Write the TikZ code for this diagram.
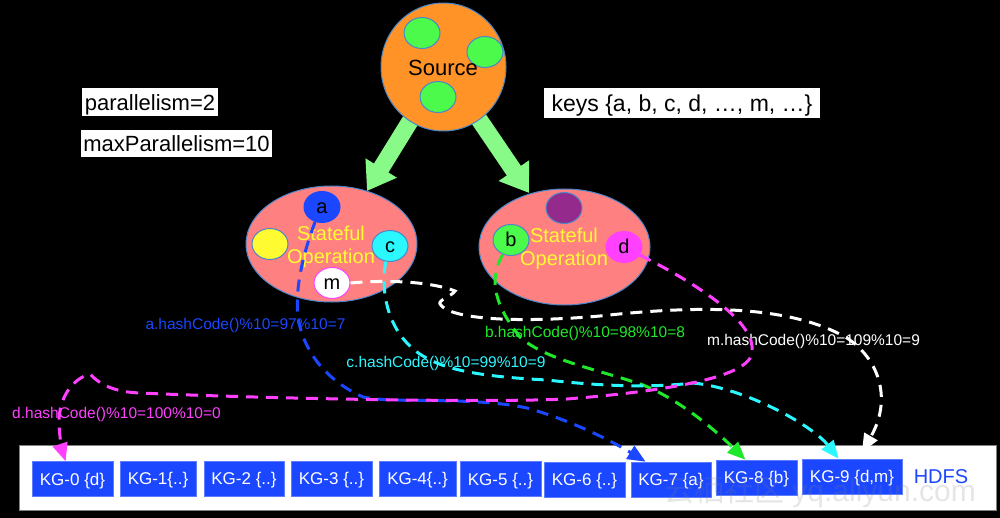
\documentclass[tikz,border=0pt]{standalone}
\usepackage{fontspec}
\setmainfont{Liberation Sans}
\newfontfamily\cjkfont{Noto Sans CJK SC}
\usepackage{tikz}
\usetikzlibrary{arrows.meta,backgrounds,shapes.geometric}
\definecolor{edgeblue}{HTML}{4A86C8}
\definecolor{srcorange}{HTML}{FF9328}
\definecolor{opsalmon}{HTML}{FF8080}
\definecolor{arrowgreen}{HTML}{88FA88}
\definecolor{keyblue}{HTML}{1A47FF}
\definecolor{keygreen}{HTML}{4CFA4C}
\definecolor{lblgreen}{HTML}{1FE82A}
\definecolor{keycyan}{HTML}{2BF7FF}
\definecolor{keymagenta}{HTML}{FF40FF}
\definecolor{keypurple}{HTML}{942B8C}
\definecolor{keyyellow}{HTML}{FFFB33}
\tikzset{
 fs/.style={font=\fontsize{#1}{#1}\selectfont},
 slot/.style={ellipse,draw=edgeblue,line width=1pt,minimum width=36pt,minimum height=31pt,inner sep=0pt,fs=20,text height=12.5pt,text depth=0pt},
 opnode/.style={ellipse,draw=edgeblue,line width=1pt,fill=opsalmon,minimum width=171pt,minimum height=116pt,inner sep=0pt},
 optext/.style={text=keyyellow,align=center,fs=20,inner sep=0pt,yshift=-1.5pt},
 infobox/.style={fill=white,text=black,inner sep=0pt,fs=22,text height=17pt,text depth=0pt},
 kgbox/.style={fill=keyblue,draw=keyblue!70!white,line width=.6pt,text=white,minimum height=35pt,inner sep=0pt,fs=17,text height=12.4pt,text depth=0pt},
 hashlbl/.style={inner sep=0pt,fs=15.5,yshift=-2pt},
 flow/.style={line width=3pt,dash pattern=on 12pt off 8pt,-{Triangle[length=18pt,width=15pt]}},
 bigarrow/.style={draw=arrowgreen,line width=17pt,shorten <=-6pt,-{Triangle[length=27pt,width=35pt]}},
}
\begin{document}
\begin{tikzpicture}[x=1pt,y=-1pt]
 \useasboundingbox (0,0) rectangle (1000,518);
 \begin{scope}[on background layer]
  \fill[black] (0,0) rectangle (1000,518);
 \end{scope}
 % source
 \node[ellipse,draw=edgeblue,line width=1pt,fill=srcorange,minimum width=125pt,minimum height=128pt,inner sep=0pt] (src) at (443.5,67) {};
 \node[slot,fill=keygreen] (s1) at (422,33) {};
 \node[slot,fill=keygreen] (s2) at (485,52) {};
 \node[slot,fill=keygreen] (s3) at (438,97) {};
 \node[fs=22,inner sep=0pt] (srcname) at (443,68) {Source};
 % operators
 \node[opnode] (opL) at (331.5,244) {};
 \node[opnode] (opR) at (564.5,247) {};
 \coordinate (tipL) at (367,191);
 \coordinate (tipR) at (529,193);
 \begin{scope}[on background layer]
  \draw[bigarrow] (src) -- (tipL);
  \draw[bigarrow] (src) -- (tipR);
 \end{scope}
 \node[optext] (txtL) at (331,245) {Stateful\\[3pt]Operation};
 \node[optext] (txtR) at (564,247.5) {Stateful\\[3pt]Operation};
 \node[slot,fill=keyblue,draw=keyblue] (a) at (322,207) {a};
 \node[slot,fill=keyyellow] (y) at (270,244) {};
 \node[slot,fill=keycyan] (c) at (390,246) {c};
 \node[slot,fill=white,draw=keymagenta] (m) at (332,283) {m};
 \node[slot,fill=keypurple] (p) at (564,208) {};
 \node[slot,fill=keygreen] (b) at (511,240) {b};
 \node[slot,fill=keymagenta,draw=keymagenta] (d) at (624,247) {d};
 % info boxes
 \node[infobox,minimum width=136pt,minimum height=28pt] (par) at (150,102) {parallelism=2};
 \node[infobox,minimum width=191pt,minimum height=27pt] (maxpar) at (176.5,143.5) {maxParallelism=10};
 \node[infobox,fs=23,minimum width=276pt,minimum height=30pt] (keys) at (682,103) {keys \{a, b, c, d, …, m, …\}};
 % hdfs panel
 \node[draw=gray,line width=.8pt,fill=white,minimum width=977pt,minimum height=65pt,inner sep=0pt] (panel) at (507.5,477.5) {};
 \node[kgbox,minimum width=81pt] (kg0) at (72.5,479) {KG-0 \{d\}};
 \node[kgbox,minimum width=76pt] (kg1) at (158,478.5) {KG-1\{..\}};
 \node[kgbox,minimum width=80pt] (kg2) at (244,478.5) {KG-2 \{..\}};
 \node[kgbox,minimum width=81pt] (kg3) at (331.5,478.5) {KG-3 \{..\}};
 \node[kgbox,minimum width=77pt] (kg4) at (417.5,478.5) {KG-4\{..\}};
 \node[kgbox,minimum width=81pt] (kg5) at (500.5,479) {KG-5 \{..\}};
 \node[kgbox,minimum width=81pt] (kg6) at (584.5,479.5) {KG-6 \{..\}};
 \node[kgbox,minimum width=80pt] (kg7) at (671,479.5) {KG-7 \{a\}};
 \node[kgbox,minimum width=81pt] (kg8) at (756.5,477.5) {KG-8 \{b\}};
 \node[kgbox,minimum width=100pt] (kg9) at (852,476.5) {KG-9 \{d,m\}};
 \node[text=keyblue,inner sep=0pt,fs=20] (hdfs) at (941,477) {HDFS};
 % hash labels
 \node[hashlbl,text=keyblue] (la) at (245.5,323) {a.hashCode()\%10=97\%10=7};
 \node[hashlbl,text=lblgreen] (lb) at (585,331) {b.hashCode()\%10=98\%10=8};
 \node[hashlbl,text=keycyan] (lc) at (446,361) {c.hashCode()\%10=99\%10=9};
 \node[hashlbl,text=keymagenta] (ld) at (116.5,412) {d.hashCode()\%10=100\%10=0};
 \node[hashlbl,text=white] (lm) at (813.5,339) {m.hashCode()\%10=109\%10=9};
 % flows
 \coordinate (mEnd) at (862,452);
 \draw[flow,keyblue] (a.245) .. controls (297,270) and (296,300) .. (298,317) .. controls (303,350) and (325,380) .. (363,397) .. controls (395,404) and (470,396) .. (527,408) .. controls (570,420) and (610,440) .. (kg7.145);
 \draw[flow,lblgreen] (b.240) .. controls (491,275) and (490,300) .. (520,337) .. controls (545,360) and (600,370) .. (643,385) .. controls (680,400) and (715,430) .. (kg8.122);
 \draw[flow,keycyan] (c.255) .. controls (381,285) and (385,320) .. (407,343) .. controls (430,368) and (470,376) .. (547,380) .. controls (600,386) and (650,388) .. (693,383) .. controls (745,388) and (812,425) .. (kg9.127);
 \draw[flow,keymagenta] (d.-27) .. controls (690,280) and (755,320) .. (752,350) .. controls (755,375) and (680,390) .. (567,399) .. controls (480,403) and (250,398) .. (140,393) .. controls (115,392) and (100,385) .. (90,374) .. controls (75,378) and (58,395) .. (59,425) .. controls (60,440) and (62,450) .. (kg0.111);
 \draw[flow,white] (m.east) .. controls (395,279) and (435,283) .. (455,291) .. controls (452,296) and (438,300) .. (440,304) .. controls (450,320) and (520,323) .. (600,316) .. controls (700,305) and (790,305) .. (847,338) .. controls (880,360) and (892,400) .. (mEnd);
 % watermark
 \node[text=gray,opacity=.2,inner sep=0pt,fs=30] (mark) at (820,492) {{\cjkfont 云栖社区} yq.aliyun.com};
\end{tikzpicture}
\end{document}
